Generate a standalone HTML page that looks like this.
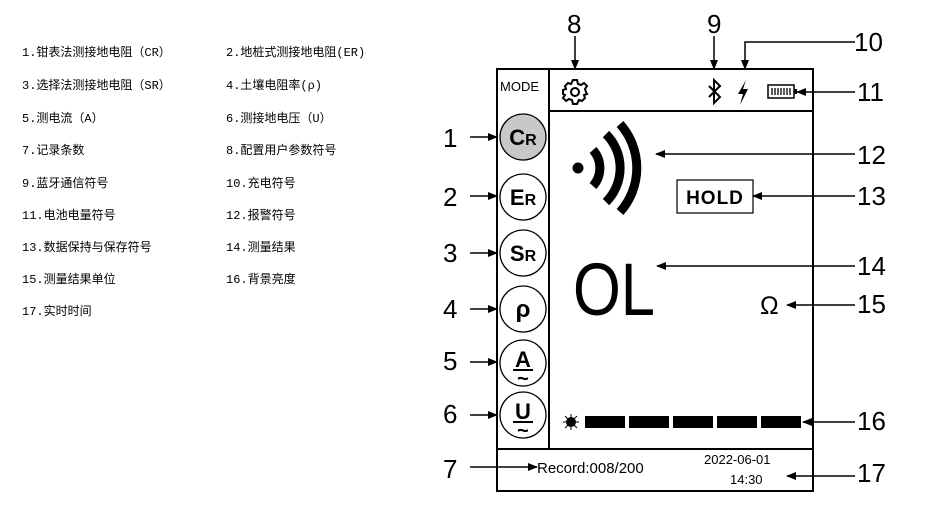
<!DOCTYPE html>
<html><head><meta charset="utf-8"><style>
body{margin:0;width:929px;height:514px;background:#fff;position:relative;overflow:hidden;font-family:"Liberation Sans","Noto Sans CJK SC",sans-serif}
.t{position:absolute;font-size:12px;font-family:"Liberation Mono","Noto Sans CJK SC",monospace;color:#000;white-space:nowrap}
</style></head><body>
<div class="t" style="left:22px;top:43px">1.钳表法测接地电阻（CR）</div>
<div class="t" style="left:226px;top:43px">2.地桩式测接地电阻(ER)</div>
<div class="t" style="left:22px;top:76px">3.选择法测接地电阻（SR）</div>
<div class="t" style="left:226px;top:76px">4.土壤电阻率(ρ)</div>
<div class="t" style="left:22px;top:109px">5.测电流（A）</div>
<div class="t" style="left:226px;top:109px">6.测接地电压（U）</div>
<div class="t" style="left:22px;top:141px">7.记录条数</div>
<div class="t" style="left:226px;top:141px">8.配置用户参数符号</div>
<div class="t" style="left:22px;top:174px">9.蓝牙通信符号</div>
<div class="t" style="left:226px;top:174px">10.充电符号</div>
<div class="t" style="left:22px;top:206px">11.电池电量符号</div>
<div class="t" style="left:226px;top:206px">12.报警符号</div>
<div class="t" style="left:22px;top:238px">13.数据保持与保存符号</div>
<div class="t" style="left:226px;top:238px">14.测量结果</div>
<div class="t" style="left:22px;top:270px">15.测量结果单位</div>
<div class="t" style="left:226px;top:270px">16.背景亮度</div>
<div class="t" style="left:22px;top:302px">17.实时时间</div>

<svg width="929" height="514" style="position:absolute;left:0;top:0" font-family="Liberation Sans, sans-serif">
<defs><marker id="a" markerWidth="10" markerHeight="8" refX="9" refY="4" orient="auto" markerUnits="userSpaceOnUse"><path d="M0,0L10,4L0,8z" fill="#000"/></marker></defs>
<g fill="none" stroke="#000" stroke-width="2">
<rect x="497" y="69" width="316" height="422"/>
<line x1="549" y1="69" x2="549" y2="449"/>
<line x1="549" y1="111" x2="813" y2="111"/>
<line x1="497" y1="449" x2="813" y2="449"/>
</g>
<g stroke="#000" stroke-width="1.3" fill="#fff">
<circle cx="523" cy="137" r="23" fill="#c8c8c8"/>
<circle cx="523" cy="197" r="23"/>
<circle cx="523" cy="253" r="23"/>
<circle cx="523" cy="309" r="23"/>
<circle cx="523" cy="363" r="23"/>
<circle cx="523" cy="415" r="23"/>
</g>
<g font-weight="bold" text-anchor="middle" fill="#000">
<text x="523" y="145" font-size="22">C<tspan font-size="16">R</tspan></text>
<text x="523" y="205" font-size="22">E<tspan font-size="16">R</tspan></text>
<text x="523" y="261" font-size="22">S<tspan font-size="16">R</tspan></text>
<text x="523" y="317" font-size="24">ρ</text>
<text x="523" y="367" font-size="22">A</text>
<text x="523" y="385" font-size="20">~</text>
<text x="523" y="419" font-size="22">U</text>
<text x="523" y="437" font-size="20">~</text>
</g>
<g stroke="#000" stroke-width="2"><line x1="513" y1="370" x2="533" y2="370"/><line x1="513" y1="422" x2="533" y2="422"/></g>
<text x="500" y="91" font-size="13">MODE</text>
<g transform="translate(575,92)" fill="none" stroke="#000" stroke-width="2">
<circle r="4"/>
<path d="M-2,-12 L2,-12 L3,-8 L6,-7 L9,-9 L12,-6 L10,-3 L11,0 L12,2 L12,2 L9,3 L10,6 L7,9 L4,8 L2,12 L-2,12 L-3,8 L-6,7 L-9,9 L-12,6 L-10,3 L-12,2 L-12,-2 L-9,-3 L-10,-6 L-7,-9 L-4,-8 Z"/>
</g>
<path d="M709,86 L720,97 L714,103 L714,80 L720,86 L709,97" fill="none" stroke="#000" stroke-width="2"/>
<path d="M746,80 L738,94 L743,94 L740,105 L748,89 L743,89 Z" fill="#000"/>
<rect x="768" y="85" width="26" height="13" fill="none" stroke="#000" stroke-width="1.5"/>
<rect x="794" y="89" width="3" height="5" fill="#000"/>
<g stroke="#000" stroke-width="1.3"><line x1="772" y1="88" x2="772" y2="95"/><line x1="775" y1="88" x2="775" y2="95"/><line x1="778" y1="88" x2="778" y2="95"/><line x1="781" y1="88" x2="781" y2="95"/><line x1="784" y1="88" x2="784" y2="95"/><line x1="787" y1="88" x2="787" y2="95"/><line x1="790" y1="88" x2="790" y2="95"/></g>
<circle cx="578" cy="168" r="5.5" fill="#000"/>
<g fill="none" stroke="#000" stroke-width="9">
<path d="M593,150 A27,27 0 0 1 593,186"/>
<path d="M606,134 A48,48 0 0 1 606,202"/>
<path d="M620,124 A66,66 0 0 1 620,212"/>
</g>
<rect x="677" y="180" width="76" height="33" fill="none" stroke="#000" stroke-width="1.2"/>
<text x="715" y="204" font-size="19" font-weight="bold" text-anchor="middle" letter-spacing="1">HOLD</text>
<text x="573" y="315" font-size="74" textLength="82" lengthAdjust="spacingAndGlyphs">OL</text>
<text x="760" y="314" font-size="25">Ω</text>
<circle cx="571" cy="422" r="5" fill="#000"/>
<g stroke="#000" stroke-width="1"><line x1="563" y1="422" x2="579" y2="422"/><line x1="571" y1="414" x2="571" y2="430"/><line x1="565" y1="416" x2="577" y2="428"/><line x1="577" y1="416" x2="565" y2="428"/></g>
<g fill="#000"><rect x="585" y="416" width="40" height="12"/><rect x="629" y="416" width="40" height="12"/><rect x="673" y="416" width="40" height="12"/><rect x="717" y="416" width="40" height="12"/><rect x="761" y="416" width="40" height="12"/></g>
<text x="537" y="473" font-size="15">Record:008/200</text>
<text x="704" y="464" font-size="13">2022-06-01</text>
<text x="730" y="484" font-size="13">14:30</text>
<g font-size="26" fill="#000">
<text x="443" y="147">1</text><text x="443" y="206">2</text><text x="443" y="262">3</text><text x="443" y="318">4</text><text x="443" y="370">5</text><text x="443" y="423">6</text><text x="443" y="478">7</text>
<text x="567" y="33">8</text><text x="707" y="33">9</text><text x="854" y="51">10</text><text x="857" y="101">11</text><text x="857" y="164">12</text><text x="857" y="205">13</text><text x="857" y="275">14</text><text x="857" y="313">15</text><text x="857" y="430">16</text><text x="857" y="482">17</text>
</g>
<g stroke="#000" stroke-width="1.5" marker-end="url(#a)">
<line x1="470" y1="137" x2="497" y2="137"/><line x1="470" y1="196" x2="497" y2="196"/><line x1="470" y1="253" x2="497" y2="253"/><line x1="470" y1="309" x2="497" y2="309"/><line x1="470" y1="362" x2="497" y2="362"/><line x1="470" y1="415" x2="497" y2="415"/>
<line x1="470" y1="467" x2="537" y2="467"/>
<line x1="575" y1="36" x2="575" y2="69"/><line x1="714" y1="36" x2="714" y2="69"/>
<polyline points="855,42 745,42 745,69" fill="none"/>
<line x1="855" y1="92" x2="797" y2="92"/><line x1="855" y1="154" x2="656" y2="154"/><line x1="855" y1="196" x2="753" y2="196"/><line x1="855" y1="266" x2="657" y2="266"/><line x1="855" y1="305" x2="787" y2="305"/><line x1="855" y1="422" x2="803" y2="422"/><line x1="855" y1="476" x2="787" y2="476"/>
</g>
</svg>
</body></html>
